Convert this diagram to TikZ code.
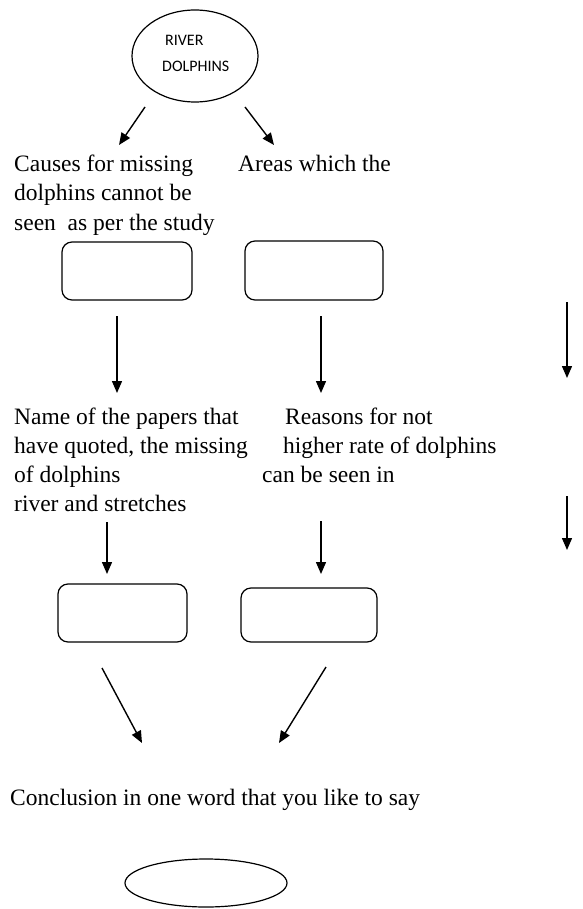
\documentclass[tikz,border=0pt]{standalone}
\usepackage{fontspec}
\setmainfont{Liberation Serif}
\newfontfamily\calib{Carlito}
\usetikzlibrary{shapes.geometric,arrows.meta}
\tikzset{
  txt/.style={anchor=base west,inner sep=0pt,font=\fontsize{23.5}{29}\selectfont},
  smalltxt/.style={anchor=west,inner sep=0pt,font=\calib\fontsize{16}{19}\selectfont},
  blankbox/.style={draw,line width=1.2pt,rounded corners=10pt,inner sep=0pt},
  oval/.style={draw,ellipse,line width=1.2pt,inner sep=0pt},
  arr/.style={line width=1.4pt,-{Triangle[length=12pt,width=10pt]}}
}
\begin{document}
\begin{tikzpicture}[x=1pt,y=-1pt]
\useasboundingbox (0,0) rectangle (582,909);
% top ellipse
\node[oval,minimum width=126pt,minimum height=92pt] (top) at (195,56) {};
\node[smalltxt] (t1) at (165,40) {RIVER};
\node[smalltxt] (t2) at (162,66) {DOLPHINS};
% arrows from top
\coordinate (a1s) at (145,107); \coordinate (a1e) at (119,145);
\coordinate (a2s) at (245,107); \coordinate (a2e) at (274,145);
\draw[arr] (a1s) -- (a1e);
\draw[arr] (a2s) -- (a2e);
% first text block
\node[txt] (c1) at (14,172) {Causes for missing};
\node[txt] (c2) at (14,201) {dolphins cannot be};
\node[txt] (c3) at (14,230) {seen\ \ as per the study};
\node[txt] (r1) at (238,172) {Areas which the};
% first boxes
\node[blankbox,minimum width=130pt,minimum height=58pt] (b1) at (127,271) {};
\node[blankbox,minimum width=138pt,minimum height=59pt] (b2) at (314,270.5) {};
% vertical arrows
\coordinate (v1s) at (117,316); \coordinate (v1e) at (117,393);
\coordinate (v2s) at (321,316); \coordinate (v2e) at (321,393);
\coordinate (v3s) at (567,302); \coordinate (v3e) at (567,378);
\draw[arr] (v1s) -- (v1e);
\draw[arr] (v2s) -- (v2e);
\draw[arr] (v3s) -- (v3e);
% second text block
\node[txt] (n1) at (14,424) {Name of the papers that};
\node[txt] (n2) at (14,453) {have quoted, the missing};
\node[txt] (n3) at (14,482) {of dolphins};
\node[txt] (n4) at (14,511) {river and stretches};
\node[txt] (s1) at (285,424) {Reasons for not};
\node[txt] (s2) at (283,453) {higher rate of dolphins};
\node[txt] (s3) at (262,482) {can be seen in};
% arrows
\coordinate (w1s) at (107,522); \coordinate (w1e) at (107,574);
\coordinate (w2s) at (321,521); \coordinate (w2e) at (321,574);
\coordinate (w3s) at (567,496); \coordinate (w3e) at (567,550);
\draw[arr] (w1s) -- (w1e);
\draw[arr] (w2s) -- (w2e);
\draw[arr] (w3s) -- (w3e);
% second boxes
\node[blankbox,minimum width=129pt,minimum height=58pt] (b3) at (122.5,613) {};
\node[blankbox,minimum width=136pt,minimum height=54pt] (b4) at (309,615) {};
% diagonal arrows
\coordinate (d1s) at (102,668); \coordinate (d1e) at (142,743);
\coordinate (d2s) at (326,667); \coordinate (d2e) at (279,743);
\draw[arr] (d1s) -- (d1e);
\draw[arr] (d2s) -- (d2e);
% conclusion
\node[txt] (con) at (10,805) {Conclusion in one word that you like to say};
\node[oval,minimum width=162pt,minimum height=48pt] (bot) at (206,883) {};
\end{tikzpicture}
\end{document}
